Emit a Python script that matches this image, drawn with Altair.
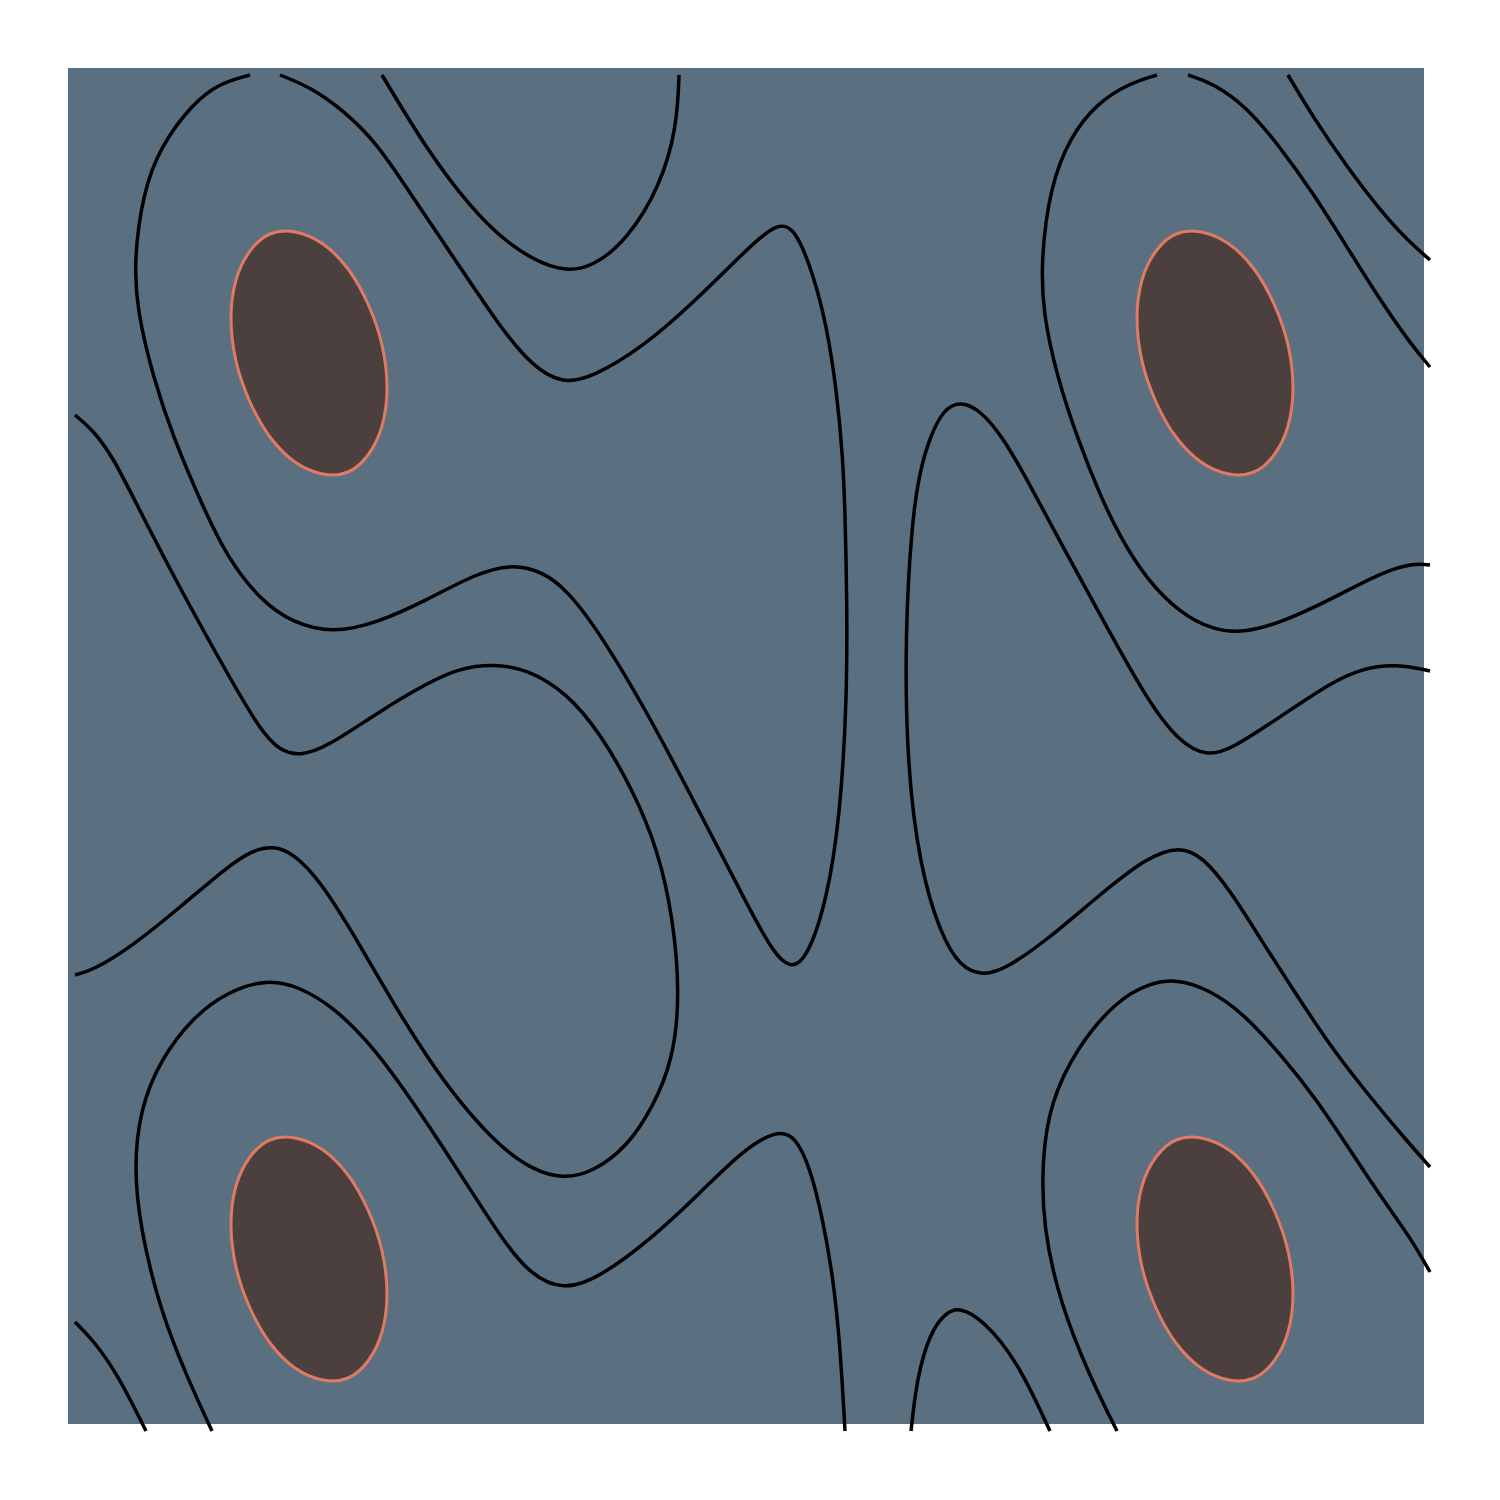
import altair as alt
import pandas as pd

# contour lines (pixel coords, y grows downward)
curve_a = [(250, 75), (220, 83), (193, 103), (160, 147), (143, 193), (134, 260), (137, 310),
           (153, 377), (173, 437), (203, 507), (227, 557), (260, 600), (293, 623), (333, 633),
           (377, 623), (427, 600), (477, 573), (513, 564), (543, 572), (567, 590), (600, 633),
           (650, 717), (700, 813), (750, 910), (773, 952), (790, 969), (807, 959), (827, 900),
           (840, 817), (847, 700), (847, 600), (845, 510), (843, 460), (837, 393), (827, 327),
           (813, 273), (795, 228), (777, 222), (743, 253), (693, 303), (643, 347), (593, 377),
           (563, 384), (533, 367), (500, 327), (460, 267), (410, 193), (377, 143), (343, 110),
           (310, 87), (280, 75)]
curve_b = [(382, 75), (427, 150), (470, 207), (510, 247), (560, 273), (593, 267), (627, 240),
           (660, 187), (677, 127), (679, 75)]
curve_c = [(75, 415), (93, 430), (113, 457), (137, 505), (177, 583), (227, 673), (260, 730),
           (280, 751), (300, 756), (327, 747), (377, 713), (427, 683), (460, 668), (493, 664),
           (527, 669), (567, 693), (600, 733), (633, 790), (658, 850), (673, 917), (680, 995),
           (673, 1060), (653, 1107), (627, 1147), (593, 1172), (563, 1179), (533, 1170),
           (500, 1147), (460, 1103), (427, 1057), (393, 1003), (360, 945), (320, 880),
           (293, 853), (273, 846), (253, 850), (227, 867), (177, 910), (127, 950), (93, 970),
           (75, 975)]
curve_d = [(1157, 75), (1130, 83), (1097, 103), (1070, 137), (1050, 187), (1041, 260),
           (1043, 313), (1057, 377), (1078, 440), (1100, 495), (1120, 537), (1147, 580),
           (1180, 613), (1213, 630), (1243, 633), (1280, 623), (1330, 600), (1380, 573),
           (1413, 563), (1430, 565)]
curve_e = [(1188, 75), (1213, 83), (1247, 107), (1280, 147), (1313, 193), (1347, 247),
           (1380, 300), (1410, 343), (1430, 367)]
curve_f = [(1288, 75), (1313, 117), (1347, 167), (1380, 210), (1407, 240), (1430, 260)]
curve_g = [(1430, 671), (1397, 664), (1363, 668), (1330, 683), (1280, 717), (1230, 750),
           (1207, 756), (1180, 743), (1147, 700), (1103, 620), (1063, 547), (1030, 485),
           (1003, 437), (980, 410), (960, 401), (943, 410), (930, 437), (920, 470), (912, 520),
           (905, 633), (907, 767), (920, 867), (940, 933), (960, 967), (983, 976), (1007, 968),
           (1047, 940), (1097, 897), (1147, 857), (1180, 846), (1203, 857), (1230, 890),
           (1263, 943), (1287, 980), (1300, 1000), (1333, 1050), (1367, 1093), (1400, 1133),
           (1430, 1167)]
curve_h = [(75, 1322), (93, 1340), (117, 1373), (146, 1431)]
curve_i = [(212, 1431), (187, 1377), (160, 1310), (140, 1227), (134, 1167), (140, 1110),
           (160, 1060), (193, 1017), (227, 992), (267, 979), (300, 987), (333, 1007),
           (367, 1040), (400, 1083), (443, 1147), (477, 1200), (505, 1243), (530, 1274),
           (563, 1291), (600, 1277), (650, 1240), (700, 1193), (743, 1150), (777, 1130),
           (795, 1136), (810, 1167), (823, 1220), (833, 1277), (840, 1343), (845, 1431)]
curve_j = [(911, 1431), (917, 1377), (930, 1333), (945, 1313), (960, 1307), (983, 1320),
           (1017, 1360), (1050, 1431)]
curve_k = [(1117, 1431), (1090, 1377), (1060, 1303), (1043, 1227), (1042, 1160), (1050, 1103),
           (1077, 1047), (1117, 1000), (1150, 983), (1177, 979), (1210, 990), (1243, 1013),
           (1283, 1057), (1317, 1100), (1350, 1150), (1383, 1200), (1410, 1237), (1430, 1272)]

# top contour level: one blob outline (offsets from its centre) and the four centres
blob_outline = [(78, 35), (73, 73), (59, 102), (39, 119), (14, 121), (-14, 109), (-39, 84),
                (-59, 49), (-73, 8), (-78, -35), (-73, -73), (-59, -102), (-39, -119),
                (-14, -121), (14, -109), (39, -84), (59, -49), (73, -8)]
blob_centres = [(309, 353), (1215, 353), (309, 1259), (1215, 1259)]

curves = {"a": curve_a, "b": curve_b, "c": curve_c, "d": curve_d, "e": curve_e, "f": curve_f,
          "g": curve_g, "h": curve_h, "i": curve_i, "j": curve_j, "k": curve_k}

rows = []
for name, pts in curves.items():
    for n, (x, y) in enumerate(pts):
        rows.append({"curve": name, "i": n, "x": x, "y": y})
lines_df = pd.DataFrame(rows)

rows = []
for b, (cx, cy) in enumerate(blob_centres):
    for n, (dx, dy) in enumerate(blob_outline):
        rows.append({"blob": b, "i": n, "x": cx + dx, "y": cy + dy})
blobs_df = pd.DataFrame(rows)

xs = alt.Scale(domain=[68, 1424], nice=False, zero=False)
ys = alt.Scale(domain=[68, 1424], nice=False, zero=False, reverse=True)

lines = (
    alt.Chart(lines_df)
    .mark_line(color="black", strokeWidth=3.5, interpolate="basis", clip=False)
    .encode(
        x=alt.X("x:Q", scale=xs, axis=None),
        y=alt.Y("y:Q", scale=ys, axis=None),
        detail="curve:N",
        order="i:Q",
    )
)

blobs = (
    alt.Chart(blobs_df)
    .mark_line(fill="#4b403e", stroke="#e07a63", strokeWidth=3,
               interpolate="cardinal-closed", clip=False)
    .encode(
        x=alt.X("x:Q", scale=xs, axis=None),
        y=alt.Y("y:Q", scale=ys, axis=None),
        detail="blob:N",
        order="i:Q",
    )
)

chart = (
    alt.layer(blobs, lines)
    .properties(width=1356, height=1356,
                padding={"left": 60, "top": 60, "right": 30, "bottom": 30},
                autosize="none", background="white")
    .configure_view(fill="#5a6f80", strokeWidth=0)
)

chart.save("out.html", embed_options={"renderer": "svg", "actions": False})
